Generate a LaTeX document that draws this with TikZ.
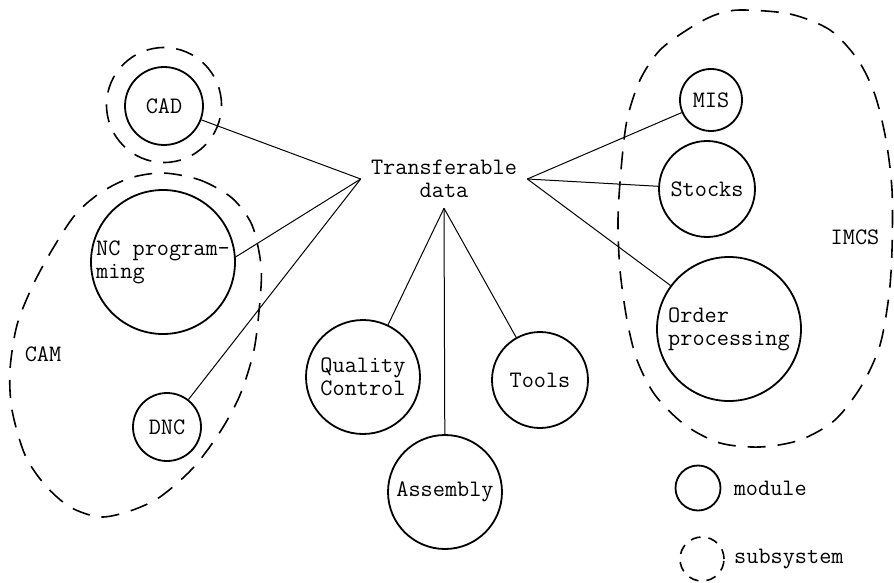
\documentclass[tikz,border=0pt]{standalone}
\usepackage{fontspec}
\usetikzlibrary{positioning}

\begin{document}
\begin{tikzpicture}[x=0.5pt, y=-0.5pt,
  every node/.style={font=\ttfamily\fontsize{11.8}{11.5}\selectfont},
  module/.style={draw, circle, line width=0.9pt, inner sep=0pt},
  subsystem/.style={draw, line width=0.8pt, dash pattern=on 9pt off 6pt},
  link/.style={draw, line width=0.5pt}]
  \useasboundingbox (0,0) rectangle (894,583);

  % modules
  \node[module, minimum size=39pt] (cad) at (164,106) {CAD};
  \node[module, minimum size=72pt, align=left] (nc) at (163,262) {NC program-\\ming};
  \node[module, minimum size=34pt] (dnc) at (167,427) {DNC};
  \node[module, minimum size=57pt, align=center] (quality) at (363,377) {Quality\\Control};
  \node[module, minimum size=57pt] (assembly) at (445,492) {Assembly};
  \node[module, minimum size=48pt] (tools) at (540,380) {Tools};
  \node[module, minimum size=31pt] (mis) at (711,100) {MIS};
  \node[module, minimum size=48pt] (stocks) at (707,189) {Stocks};
  \node[module, minimum size=72pt, align=left] (order) at (729,329) {Order\\processing};

  \node[align=center, inner sep=5pt] (hub) at (444,179) {Transferable\\data};

  % subsystems
  \node[subsystem, circle, minimum size=57.5pt] (cadsys) at (164,105) {};
  \draw[subsystem] plot[smooth cycle] coordinates {(163,173) (200,180) (232,198) (252,225)
    (261,265) (260,300) (254,350) (240,395) (220,432) (193,468) (160,497) (130,511)
    (100,517) (70,507) (45,485) (25,455) (12,410) (10,370) (17,325) (33,285) (52,250)
    (75,215) (100,193) (130,178)};
  \draw[subsystem] plot[smooth cycle] coordinates {(740,10) (790,14) (830,30) (858,60)
    (875,95) (886,140) (892,190) (892,250) (889,295) (880,345) (862,385) (835,420)
    (800,440) (760,447) (720,443) (685,425) (655,395) (637,360) (627,320) (620,270)
    (618,220) (621,170) (627,120) (640,80) (660,50) (690,28) (715,15)};
  \node (cam) at (43,354) {CAM};
  \node (imcs) at (855,237) {IMCS};

  % connections
  \draw[link] (cad) -- (hub.west);
  \draw[link] (nc.4) -- (hub.west);
  \draw[link] (dnc) -- (hub.west);
  \draw[link] (hub.east) -- (mis);
  \draw[link] (hub.east) -- (stocks);
  \draw[link] (hub.east) -- (order);
  \draw[link] (hub.south) -- (quality);
  \draw[link] (hub.south) -- (assembly);
  \draw[link] (hub.south) -- (tools);

  % key
  \node[module, minimum size=22.5pt] (keymod) at (698,488) {};
  \node[right=6pt of keymod, inner sep=0pt] (keymodtext) {module};
  \node[subsystem, circle, minimum size=22pt, dash pattern=on 5pt off 4pt] (keysub) at (702,559) {};
  \node[right=4.5pt of keysub, inner sep=0pt] (keysubtext) {subsystem};
\end{tikzpicture}
\end{document}
